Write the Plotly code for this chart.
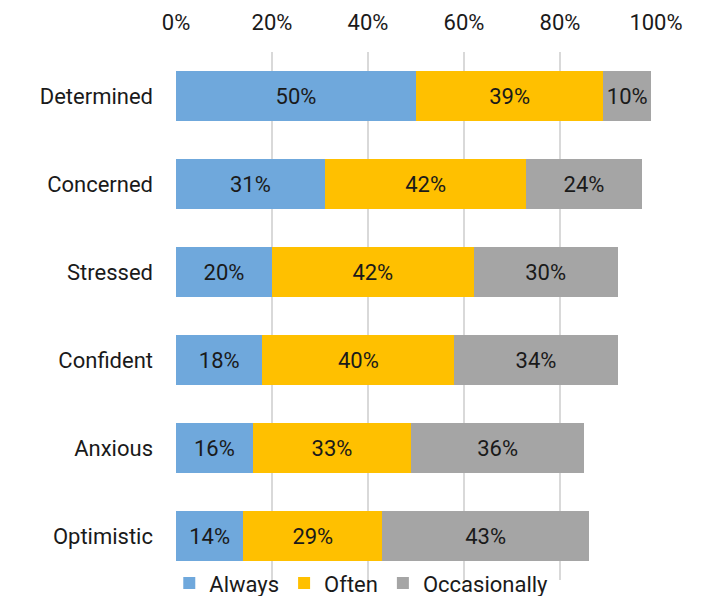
import plotly.graph_objects as go

# Share of respondents reporting each feeling, by frequency (%)
feelings = ["Determined", "Concerned", "Stressed", "Confident", "Anxious", "Optimistic"]
always = [50, 31, 20, 18, 16, 14]
often = [39, 42, 42, 40, 33, 29]
occasionally = [10, 24, 30, 34, 36, 43]
tick_values = [0, 20, 40, 60, 80, 100]
tick_labels = ["0%", "20%", "40%", "60%", "80%", "100%"]

series = [
    ("Always", always, "#6FA8DC"),
    ("Often", often, "#FFC000"),
    ("Occasionally", occasionally, "#A5A5A5"),
]

FONT = "Roboto"
TEXT_COLOR = "#1A1A1A"

fig = go.Figure()
for name, vals, color in series:
    fig.add_trace(go.Bar(
        y=feelings,
        x=vals,
        name=name,
        orientation="h",
        marker=dict(color=color, line=dict(width=0)),
        text=[f"{v}%" for v in vals],
        textposition="inside",
        insidetextanchor="middle",
        textangle=0,
        constraintext="none",
        textfont=dict(family=FONT, size=22, color=TEXT_COLOR),
        hoverinfo="skip",
    ))

fig.update_layout(
    barmode="stack",
    bargap=0.43,
    width=705,
    height=596,
    margin=dict(l=176, r=49, t=52, b=16, autoexpand=False),
    paper_bgcolor="white",
    plot_bgcolor="white",
    font=dict(family=FONT, size=22, color=TEXT_COLOR),
    legend=dict(
        orientation="h",
        traceorder="normal",
        x=-0.014,
        xanchor="left",
        y=-0.006,
        yanchor="middle",
        font=dict(family=FONT, size=22, color=TEXT_COLOR),
        itemwidth=30,
        bgcolor="rgba(0,0,0,0)",
    ),
    showlegend=True,
)

fig.update_xaxes(
    side="top",
    range=[0, 100],
    tickvals=tick_values,
    ticktext=tick_labels,
    showgrid=True,
    gridcolor="#D9D9D9",
    gridwidth=2,
    zeroline=False,
    showline=False,
    ticks="",
    ticklabelstandoff=17,
    tickfont=dict(family=FONT, size=22, color=TEXT_COLOR),
)

fig.update_yaxes(
    categoryorder="array",
    categoryarray=feelings[::-1],
    showgrid=False,
    zeroline=False,
    showline=False,
    ticks="",
    ticklabelstandoff=22,
    tickfont=dict(family=FONT, size=22, color=TEXT_COLOR),
)

fig.write_html("out.html")
